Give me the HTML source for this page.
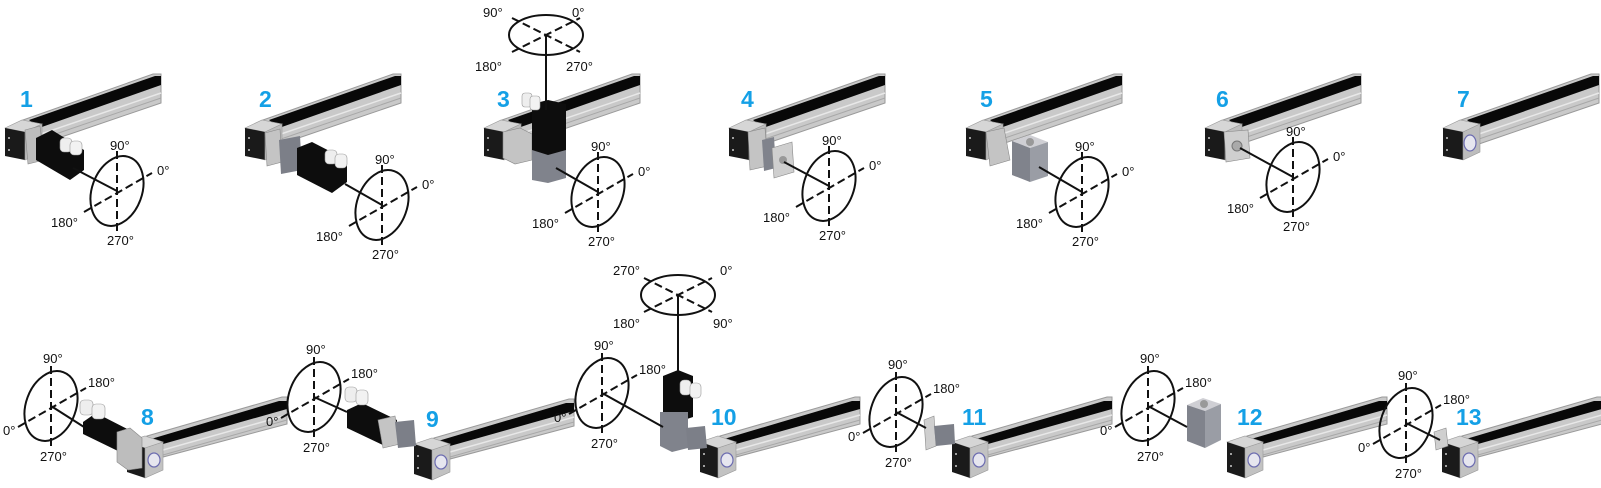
<!DOCTYPE html>
<html><head><meta charset="utf-8"><style>
html,body{margin:0;padding:0;background:#fff;}
svg{display:block}
text{font-family:"Liberation Sans",sans-serif;font-size:13px;fill:#111}
.n{font-weight:bold;font-size:23px;fill:#14a0e6}
</style></head><body>
<svg width="1601" height="488" viewBox="0 0 1601 488" xmlns="http://www.w3.org/2000/svg">
<defs>
<g id="rt">
  <polygon points="18,2 148,-44 156,-44 156,-15 36,26" fill="#c9c9c9" stroke="#9a9a9a" stroke-width="1"/>
  <polygon points="24,2 150,-42 156,-42 156,-33 34,10" fill="#080808"/>
  <line x1="36" y1="16" x2="156" y2="-25" stroke="#e8e8e8" stroke-width="1.5"/>
  <line x1="36" y1="21" x2="156" y2="-20" stroke="#a8a8a8" stroke-width="1"/>
  <polygon points="0,10 17,2 37,6 20,14" fill="#d6d6d6" stroke="#999" stroke-width="0.6"/>
  <polygon points="0,10 20,14 20,42 0,38" fill="#1a1a1a"/>
  <polygon points="20,14 37,6 37,34 20,42" fill="#bdbdbd" stroke="#999" stroke-width="0.6"/>
  <circle cx="4" cy="20" r="1" fill="#ccc"/><circle cx="4" cy="32" r="1" fill="#ccc"/>
</g>
<g id="rb">
  <polygon points="20,0 155,-39 160,-39 160,-12 36,21" fill="#c9c9c9" stroke="#9a9a9a" stroke-width="1"/>
  <polygon points="24,3 152,-35 160,-35 160,-27 36,8" fill="#080808"/>
  <line x1="36" y1="14" x2="160" y2="-21" stroke="#e8e8e8" stroke-width="1.5"/>
  <line x1="36" y1="19" x2="160" y2="-16" stroke="#a8a8a8" stroke-width="1"/>
  <polygon points="0,6 18,0 36,6 18,12" fill="#d6d6d6" stroke="#999" stroke-width="0.6"/>
  <polygon points="0,6 18,12 18,42 0,36" fill="#1a1a1a"/>
  <polygon points="18,12 36,6 36,34 18,42" fill="#c2c2c2" stroke="#999" stroke-width="0.6"/>
  <ellipse cx="27" cy="24" rx="6" ry="7" fill="#e6e6ef" stroke="#6c6cb0" stroke-width="1.2"/>
  <circle cx="4" cy="18" r="1" fill="#ccc"/><circle cx="4" cy="30" r="1" fill="#ccc"/>
</g>
<g id="ev" fill="none" stroke="#111" stroke-width="2">
  <ellipse cx="0" cy="0" rx="25" ry="36" transform="rotate(20)"/>
  <line x1="0" y1="-40" x2="0" y2="42" stroke-dasharray="8,4"/>
  <line x1="-33" y1="21" x2="35" y2="-18" stroke-dasharray="8,4"/>
</g>
<g id="eh" fill="none" stroke="#111" stroke-width="2">
  <ellipse cx="0" cy="0" rx="37" ry="20"/>
  <line x1="-34" y1="-17" x2="34" y2="17" stroke-dasharray="8,4"/>
  <line x1="-34" y1="17" x2="34" y2="-17" stroke-dasharray="8,4"/>
</g>
</defs>

<use href="#rt" x="5" y="118"/>
<use href="#rt" x="245" y="118"/>
<use href="#rt" x="484" y="118"/>
<use href="#rt" x="729" y="118"/>
<use href="#rt" x="966" y="118"/>
<use href="#rt" x="1205" y="118"/>
<use href="#rt" x="1443" y="118"/>
<ellipse cx="1470" cy="143" rx="6" ry="8" fill="#e6e6ef" stroke="#6c6cb0" stroke-width="1.2"/>

<polygon points="25,130 40,126 44,160 28,164" fill="#bdbdbd" stroke="#888" stroke-width="0.6"/>
<polygon points="36,138 52,130 84,150 84,170 70,180 36,160" fill="#0d0d0d"/>
<rect x="60" y="138" width="12" height="14" rx="4" fill="#eee" stroke="#999" stroke-width="0.6"/>
<rect x="70" y="141" width="12" height="14" rx="4" fill="#f2f2f2" stroke="#999" stroke-width="0.6"/>
<line x1="73" y1="168" x2="117" y2="191" stroke="#111" stroke-width="2"/>

<polygon points="265,133 280,129 282,162 267,166" fill="#c4c4c4" stroke="#888" stroke-width="0.6"/>
<polygon points="279,140 300,136 302,170 281,174" fill="#7c7f88"/>
<polygon points="297,148 312,142 347,160 347,182 332,193 297,175" fill="#0d0d0d"/>
<rect x="325" y="150" width="12" height="14" rx="4" fill="#eee" stroke="#999" stroke-width="0.6"/>
<rect x="335" y="154" width="12" height="14" rx="4" fill="#f2f2f2" stroke="#999" stroke-width="0.6"/>
<line x1="345" y1="184" x2="382" y2="205" stroke="#111" stroke-width="2"/>

<polygon points="503,132 520,128 532,134 532,160 515,164 503,158" fill="#c4c4c4" stroke="#888" stroke-width="0.6"/>
<polygon points="532,148 566,144 566,178 548,183 532,180" fill="#80838c"/>
<polygon points="532,104 548,100 566,104 566,150 548,155 532,150" fill="#0d0d0d"/>
<rect x="522" y="93" width="10" height="14" rx="3" fill="#eee" stroke="#999" stroke-width="0.6"/>
<rect x="530" y="96" width="10" height="14" rx="3" fill="#f2f2f2" stroke="#999" stroke-width="0.6"/>
<line x1="546" y1="35" x2="546" y2="110" stroke="#111" stroke-width="2"/>
<line x1="556" y1="168" x2="598" y2="192" stroke="#111" stroke-width="2"/>

<polygon points="748,132 765,128 768,166 750,170" fill="#c4c4c4" stroke="#888" stroke-width="0.6"/>
<polygon points="762,140 774,137 776,168 764,171" fill="#80838c"/>
<polygon points="772,148 792,142 794,172 774,178" fill="#cfcfcf" stroke="#888" stroke-width="0.6"/>
<circle cx="783" cy="160" r="4" fill="#999"/>
<line x1="784" y1="162" x2="829" y2="186" stroke="#111" stroke-width="2"/>

<polygon points="986,132 1004,128 1010,160 990,166" fill="#c4c4c4" stroke="#888" stroke-width="0.6"/>
<polygon points="1012,141 1030,135 1048,142 1030,148" fill="#cfcfd4"/>
<polygon points="1012,141 1030,148 1030,182 1012,175" fill="#80838c"/>
<polygon points="1030,148 1048,142 1048,176 1030,182" fill="#9a9da5"/>
<circle cx="1030" cy="142" r="4" fill="#999"/>
<line x1="1039" y1="167" x2="1082" y2="192" stroke="#111" stroke-width="2"/>

<polygon points="1224,132 1248,130 1250,158 1226,162" fill="#cfcfcf" stroke="#888" stroke-width="0.6"/>
<circle cx="1237" cy="146" r="5" fill="#aaa" stroke="#777"/>
<line x1="1240" y1="148" x2="1293" y2="177" stroke="#111" stroke-width="2"/>

<use href="#ev" x="117" y="191"/>
<use href="#ev" x="382" y="205"/>
<use href="#ev" x="598" y="192"/>
<use href="#ev" x="829" y="186"/>
<use href="#ev" x="1082" y="192"/>
<use href="#ev" x="1293" y="177"/>
<use href="#eh" x="546" y="35"/>

<text x="110" y="150">90°</text><text x="157" y="175">0°</text><text x="51" y="227">180°</text><text x="107" y="245">270°</text>
<text x="375" y="164">90°</text><text x="422" y="189">0°</text><text x="316" y="241">180°</text><text x="372" y="259">270°</text>
<text x="591" y="151">90°</text><text x="638" y="176">0°</text><text x="532" y="228">180°</text><text x="588" y="246">270°</text>
<text x="822" y="145">90°</text><text x="869" y="170">0°</text><text x="763" y="222">180°</text><text x="819" y="240">270°</text>
<text x="1075" y="151">90°</text><text x="1122" y="176">0°</text><text x="1016" y="228">180°</text><text x="1072" y="246">270°</text>
<text x="1286" y="136">90°</text><text x="1333" y="161">0°</text><text x="1227" y="213">180°</text><text x="1283" y="231">270°</text>
<text x="483" y="17">90°</text><text x="572" y="17">0°</text><text x="475" y="71">180°</text><text x="566" y="71">270°</text>

<text class="n" x="20" y="107">1</text>
<text class="n" x="259" y="107">2</text>
<text class="n" x="497" y="107">3</text>
<text class="n" x="741" y="107">4</text>
<text class="n" x="980" y="107">5</text>
<text class="n" x="1216" y="107">6</text>
<text class="n" x="1457" y="107">7</text>

<use href="#rb" x="127" y="436"/>
<use href="#rb" x="414" y="438"/>
<use href="#rb" x="700" y="436"/>
<use href="#rb" x="952" y="436"/>
<use href="#rb" x="1227" y="436"/>
<use href="#rb" x="1442" y="436"/>

<polygon points="83,422 96,413 133,432 133,447 120,452 83,434" fill="#0d0d0d"/>
<polygon points="117,432 130,428 142,438 142,468 128,470 117,462" fill="#bdbdbd" stroke="#888" stroke-width="0.6"/>
<rect x="80" y="400" width="13" height="15" rx="4" fill="#eee" stroke="#999" stroke-width="0.6"/>
<rect x="92" y="404" width="13" height="15" rx="4" fill="#f2f2f2" stroke="#999" stroke-width="0.6"/>
<line x1="84" y1="427" x2="51" y2="406" stroke="#111" stroke-width="2"/>

<polygon points="347,410 362,403 397,420 397,440 385,446 347,428" fill="#0d0d0d"/>
<polygon points="378,420 395,416 400,444 383,448" fill="#c4c4c4" stroke="#888" stroke-width="0.6"/>
<polygon points="395,422 414,420 416,446 398,448" fill="#7c7f88"/>
<rect x="345" y="387" width="12" height="15" rx="4" fill="#eee" stroke="#999" stroke-width="0.6"/>
<rect x="356" y="390" width="12" height="15" rx="4" fill="#f2f2f2" stroke="#999" stroke-width="0.6"/>
<line x1="347" y1="412" x2="314" y2="397" stroke="#111" stroke-width="2"/>

<polygon points="663,376 678,370 693,376 693,417 678,422 663,417" fill="#0d0d0d"/>
<polygon points="660,412 688,412 688,448 672,452 660,446" fill="#80838c"/>
<polygon points="686,428 705,426 707,448 688,450" fill="#7c7f88"/>
<rect x="680" y="380" width="11" height="15" rx="4" fill="#eee" stroke="#999" stroke-width="0.6"/>
<rect x="690" y="383" width="11" height="15" rx="4" fill="#f2f2f2" stroke="#999" stroke-width="0.6"/>
<line x1="678" y1="295" x2="678" y2="372" stroke="#111" stroke-width="2"/>
<line x1="663" y1="427" x2="602" y2="393" stroke="#111" stroke-width="2"/>

<polygon points="924,420 934,416 936,446 926,450" fill="#cfcfcf" stroke="#888" stroke-width="0.6"/>
<polygon points="934,426 954,424 955,444 936,446" fill="#7c7f88"/>
<line x1="926" y1="428" x2="896" y2="412" stroke="#111" stroke-width="2"/>

<polygon points="1187,405 1203,398 1221,404 1205,411" fill="#cfcfd4"/>
<polygon points="1187,405 1205,411 1205,448 1187,441" fill="#80838c"/>
<polygon points="1205,411 1221,404 1221,440 1205,448" fill="#9a9da5"/>
<circle cx="1204" cy="404" r="4" fill="#999"/>
<line x1="1187" y1="427" x2="1148" y2="406" stroke="#111" stroke-width="2"/>

<polygon points="1434,432 1446,428 1448,446 1436,450" fill="#cfcfcf" stroke="#888" stroke-width="0.6"/>
<line x1="1440" y1="440" x2="1406" y2="423" stroke="#111" stroke-width="2"/>

<use href="#ev" x="51" y="406"/>
<use href="#ev" x="314" y="397"/>
<use href="#ev" x="602" y="393"/>
<use href="#ev" x="896" y="412"/>
<use href="#ev" x="1148" y="406"/>
<use href="#ev" x="1406" y="423"/>
<use href="#eh" x="678" y="295"/>

<text x="43" y="363">90°</text><text x="88" y="387">180°</text><text x="3" y="435">0°</text><text x="40" y="461">270°</text>
<text x="306" y="354">90°</text><text x="351" y="378">180°</text><text x="266" y="426">0°</text><text x="303" y="452">270°</text>
<text x="594" y="350">90°</text><text x="639" y="374">180°</text><text x="554" y="422">0°</text><text x="591" y="448">270°</text>
<text x="888" y="369">90°</text><text x="933" y="393">180°</text><text x="848" y="441">0°</text><text x="885" y="467">270°</text>
<text x="1140" y="363">90°</text><text x="1185" y="387">180°</text><text x="1100" y="435">0°</text><text x="1137" y="461">270°</text>
<text x="1398" y="380">90°</text><text x="1443" y="404">180°</text><text x="1358" y="452">0°</text><text x="1395" y="478">270°</text>
<text x="613" y="275">270°</text><text x="720" y="275">0°</text><text x="613" y="328">180°</text><text x="713" y="328">90°</text>

<text class="n" x="141" y="425">8</text>
<text class="n" x="426" y="427">9</text>
<text class="n" x="711" y="425">10</text>
<text class="n" x="962" y="425">11</text>
<text class="n" x="1237" y="425">12</text>
<text class="n" x="1456" y="425">13</text>
</svg>
</body></html>
